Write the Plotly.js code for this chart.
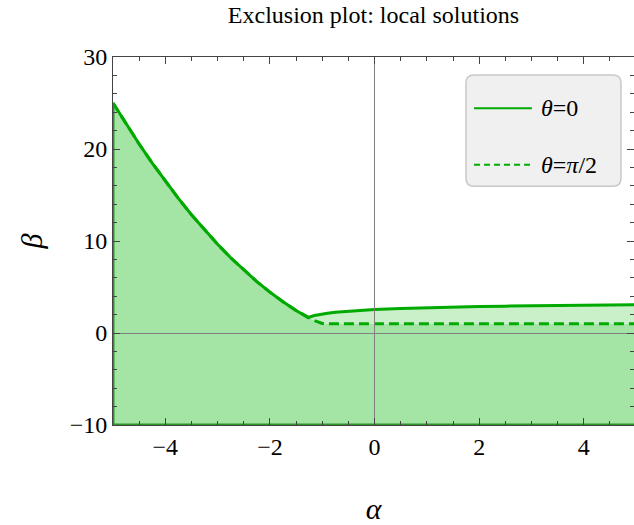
<!DOCTYPE html>
<html>
<head>
<meta charset="utf-8">
<script src="https://cdn.plot.ly/plotly-3.0.1.min.js"></script>
<style>html,body{margin:0;padding:0;background:#fff;}</style>
</head>
<body>
<div id="chart" style="width:634px;height:525px;"></div>
<script>
// ---- data ----
const alpha = [-5, -4.75, -4.5, -4.25, -4, -3.75, -3.5, -3.25, -3, -2.75, -2.5, -2.25, -2, -1.75, -1.5, -1.27, -1.15, -1.0, -0.9, -0.75, -0.5, -0.25, 0, 0.5, 1, 1.5, 2, 2.5, 3, 3.5, 4, 4.5, 5];
const betaTheta0 = [25, 22.72, 20.54, 18.47, 16.5, 14.63, 12.86, 11.2, 9.64, 8.18, 6.83, 5.58, 4.44, 3.39, 2.45, 1.68, 1.9, 2.07, 2.15, 2.25, 2.37, 2.47, 2.55, 2.66, 2.75, 2.82, 2.88, 2.92, 2.96, 2.99, 3.02, 3.04, 3.06];
const betaThetaPi2 = [25, 22.72, 20.54, 18.47, 16.5, 14.63, 12.86, 11.2, 9.64, 8.18, 6.83, 5.58, 4.44, 3.39, 2.45, 1.68, 1.35, 1.03, 1.0, 1.0, 1.0, 1.0, 1.0, 1.0, 1.0, 1.0, 1.0, 1.0, 1.0, 1.0, 1.0, 1.0, 1.0];
const betaFloor = -10;
const seriesNames = ['<i>θ</i>=0', '<i>θ</i>=<i>π</i>/2'];
const titleText = 'Exclusion plot: local solutions';
const xTitle = '<i>α</i>';
const yTitle = '<i>β</i>';

// ---- styles ----
const lineGreen = 'rgb(0,170,0)';
const edgeGreen = 'rgb(40,150,40)';
const darkFill = 'rgb(164,228,164)';
const lightFill = 'rgb(202,240,202)';
const serif = 'Liberation Serif, Times New Roman, serif';
const axisGray = '#444';

const floorLine = alpha.map(() => betaFloor);

const traces = [
  {x: alpha, y: floorLine, mode: 'lines', line: {width: 0}, hoverinfo: 'skip', showlegend: false},
  {x: alpha, y: betaThetaPi2, mode: 'lines', fill: 'tonexty', fillcolor: darkFill, line: {width: 0}, hoverinfo: 'skip', showlegend: false},
  {x: alpha, y: betaTheta0, mode: 'lines', fill: 'tonexty', fillcolor: lightFill, line: {width: 0}, hoverinfo: 'skip', showlegend: false},
  // boundary edges of the filled region (left side and floor)
  {x: [alpha[0], alpha[0], alpha[alpha.length - 1]], y: [betaTheta0[0], betaFloor, betaFloor], mode: 'lines',
   line: {color: edgeGreen, width: 3}, hoverinfo: 'skip', showlegend: false},
  {x: alpha, y: betaThetaPi2, mode: 'lines', name: seriesNames[1], line: {color: lineGreen, width: 3, dash: '10px,5px'}, showlegend: false},
  {x: alpha, y: betaTheta0, mode: 'lines', name: seriesNames[0], line: {color: lineGreen, width: 3}, showlegend: false}
];

// custom legend (box + samples + labels) in paper coordinates
const bx0 = 0.6775, bx1 = 0.975, by0 = 0.649, by1 = 0.951, rx = 0.0154, ry = 0.0217;
const boxPath = `M${bx0+rx},${by1} L${bx1-rx},${by1} Q${bx1},${by1} ${bx1},${by1-ry} L${bx1},${by0+ry} Q${bx1},${by0} ${bx1-rx},${by0} L${bx0+rx},${by0} Q${bx0},${by0} ${bx0},${by0+ry} L${bx0},${by1-ry} Q${bx0},${by1} ${bx0+rx},${by1} Z`;
const legY = [0.861, 0.707];
const shapes = [
  {type: 'path', xref: 'paper', yref: 'paper', path: boxPath, fillcolor: '#f0f0f0', line: {color: '#c8c8c8', width: 1.5}, layer: 'above'},
  {type: 'line', xref: 'paper', yref: 'paper', x0: 0.693, x1: 0.804, y0: legY[0], y1: legY[0], line: {color: lineGreen, width: 2}, layer: 'above'},
  {type: 'line', xref: 'paper', yref: 'paper', x0: 0.693, x1: 0.804, y0: legY[1], y1: legY[1], line: {color: lineGreen, width: 2, dash: '6px,4px'}, layer: 'above'}
];
const annotations = seriesNames.map((n, i) => ({
  xref: 'paper', yref: 'paper', x: 0.817, y: legY[i], xanchor: 'left', yanchor: 'middle',
  text: n, showarrow: false, font: {family: serif, size: 24, color: '#000'}
}));

const axisCommon = {
  showline: true, linecolor: axisGray, linewidth: 1, mirror: 'ticks',
  ticks: 'inside', ticklen: 7, tickwidth: 1, tickcolor: axisGray,
  showgrid: false, zeroline: true, zerolinecolor: '#808080', zerolinewidth: 1,
  zerolinelayer: 'above traces', layer: 'above traces',
  tickfont: {family: serif, size: 24, color: '#000'},
  fixedrange: true
};

const layout = {
  width: 634, height: 525,
  margin: {l: 113, r: 0, t: 57, b: 100},
  paper_bgcolor: '#fff', plot_bgcolor: '#fff',
  showlegend: false,
  title: {text: titleText, font: {family: serif, size: 24, color: '#000'}, xref: 'paper', x: 0.5, xanchor: 'center', yref: 'container', y: 0.972, yanchor: 'middle'},
  xaxis: Object.assign({}, axisCommon, {
    range: [-5, 4.96], tick0: 0, dtick: 2,
    minor: {dtick: 0.5, ticks: 'inside', ticklen: 4, tickcolor: axisGray, tickwidth: 1},
    title: {text: xTitle, font: {family: serif, size: 30, color: '#000'}, standoff: 43}
  }),
  yaxis: Object.assign({}, axisCommon, {
    range: [-10, 30], tick0: 0, dtick: 10,
    minor: {dtick: 2, ticks: 'inside', ticklen: 4, tickcolor: axisGray, tickwidth: 1},
    title: {text: yTitle, font: {family: serif, size: 30, color: '#000'}, standoff: 18}
  }),
  shapes: shapes,
  annotations: annotations
};

Plotly.newPlot('chart', traces, layout, {displayModeBar: false, staticPlot: true});
</script>
</body>
</html>
